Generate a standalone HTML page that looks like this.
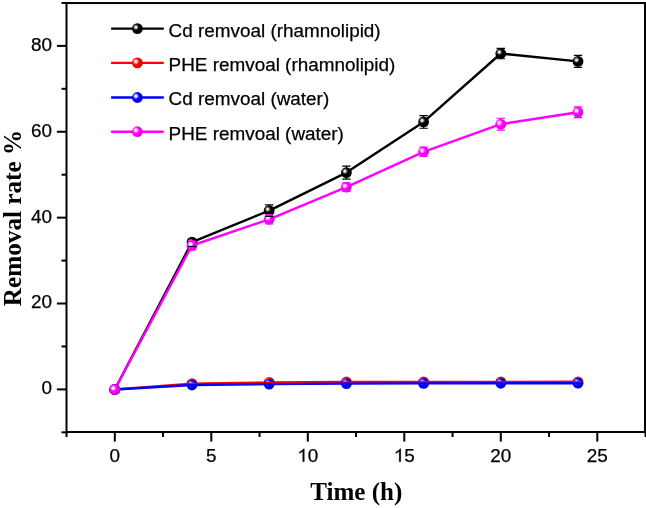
<!DOCTYPE html>
<html><head><meta charset="utf-8"><style>
html,body{margin:0;padding:0;background:#fff;}
svg{display:block;will-change:transform;}
.tl{font-family:"Liberation Sans",sans-serif;font-size:18.9px;fill:#000;stroke:#000;stroke-width:0.25px;}
.lg{font-family:"Liberation Sans",sans-serif;font-size:18.9px;fill:#000;stroke:#000;stroke-width:0.25px;}
.at{font-family:"Liberation Serif",serif;font-size:25px;font-weight:bold;fill:#000;}
</style></head><body>
<svg width="646" height="508" viewBox="0 0 646 508">
<defs><radialGradient id="gk" cx="0.36" cy="0.37" r="0.66" fx="0.36" fy="0.37">
<stop offset="0" stop-color="#f0f0f0"/><stop offset="0.12" stop-color="#f0f0f0"/><stop offset="0.27" stop-color="#606060"/><stop offset="0.45" stop-color="#000000"/><stop offset="1" stop-color="#000000"/></radialGradient><radialGradient id="gr" cx="0.36" cy="0.37" r="0.66" fx="0.36" fy="0.37">
<stop offset="0" stop-color="#fff4f4"/><stop offset="0.12" stop-color="#fff4f4"/><stop offset="0.27" stop-color="#ff8080"/><stop offset="0.45" stop-color="#ff0000"/><stop offset="1" stop-color="#e00000"/></radialGradient><radialGradient id="gb" cx="0.36" cy="0.37" r="0.66" fx="0.36" fy="0.37">
<stop offset="0" stop-color="#f4f4ff"/><stop offset="0.12" stop-color="#f4f4ff"/><stop offset="0.27" stop-color="#8080ff"/><stop offset="0.45" stop-color="#0000ff"/><stop offset="1" stop-color="#0000e0"/></radialGradient><radialGradient id="gm" cx="0.36" cy="0.37" r="0.66" fx="0.36" fy="0.37">
<stop offset="0" stop-color="#fff4ff"/><stop offset="0.12" stop-color="#fff4ff"/><stop offset="0.27" stop-color="#ff80ff"/><stop offset="0.45" stop-color="#ff00ff"/><stop offset="1" stop-color="#e000e0"/></radialGradient></defs>
<rect x="66.5" y="3.05" width="578.5" height="428.95" fill="none" stroke="#000" stroke-width="2"/>
<line x1="66.55" y1="432" x2="66.55" y2="437" stroke="#000" stroke-width="2"/>
<line x1="114.80" y1="432" x2="114.80" y2="441.6" stroke="#000" stroke-width="2"/>
<text x="114.80" y="461.7" class="tl" text-anchor="middle">0</text>
<line x1="163.05" y1="432" x2="163.05" y2="437" stroke="#000" stroke-width="2"/>
<line x1="211.30" y1="432" x2="211.30" y2="441.6" stroke="#000" stroke-width="2"/>
<text x="211.30" y="461.7" class="tl" text-anchor="middle">5</text>
<line x1="259.55" y1="432" x2="259.55" y2="437" stroke="#000" stroke-width="2"/>
<line x1="307.80" y1="432" x2="307.80" y2="441.6" stroke="#000" stroke-width="2"/>
<path transform="translate(297.29 461.7) scale(0.009229 -0.009229)" d="M763 0L583 0L583 1102Q518 1043 415 984Q312 926 221 894L221 1061Q385 1135 508 1243Q634 1350 673 1409L763 1409Z" fill="#000" stroke="#000" stroke-width="27.1"/>
<text x="307.80" y="461.7" class="tl">0</text>
<line x1="356.05" y1="432" x2="356.05" y2="437" stroke="#000" stroke-width="2"/>
<line x1="404.30" y1="432" x2="404.30" y2="441.6" stroke="#000" stroke-width="2"/>
<path transform="translate(393.79 461.7) scale(0.009229 -0.009229)" d="M763 0L583 0L583 1102Q518 1043 415 984Q312 926 221 894L221 1061Q385 1135 508 1243Q634 1350 673 1409L763 1409Z" fill="#000" stroke="#000" stroke-width="27.1"/>
<text x="404.30" y="461.7" class="tl">5</text>
<line x1="452.55" y1="432" x2="452.55" y2="437" stroke="#000" stroke-width="2"/>
<line x1="500.80" y1="432" x2="500.80" y2="441.6" stroke="#000" stroke-width="2"/>
<text x="500.80" y="461.7" class="tl" text-anchor="middle">20</text>
<line x1="549.05" y1="432" x2="549.05" y2="437" stroke="#000" stroke-width="2"/>
<line x1="597.30" y1="432" x2="597.30" y2="441.6" stroke="#000" stroke-width="2"/>
<text x="597.30" y="461.7" class="tl" text-anchor="middle">25</text>
<line x1="645.55" y1="432" x2="645.55" y2="437" stroke="#000" stroke-width="2"/>
<line x1="66.5" y1="432.34" x2="61.5" y2="432.34" stroke="#000" stroke-width="2"/>
<line x1="66.5" y1="389.40" x2="56.9" y2="389.40" stroke="#000" stroke-width="2"/>
<text x="52" y="394.35" class="tl" text-anchor="end">0</text>
<line x1="66.5" y1="346.46" x2="61.5" y2="346.46" stroke="#000" stroke-width="2"/>
<line x1="66.5" y1="303.52" x2="56.9" y2="303.52" stroke="#000" stroke-width="2"/>
<text x="52" y="308.47" class="tl" text-anchor="end">20</text>
<line x1="66.5" y1="260.58" x2="61.5" y2="260.58" stroke="#000" stroke-width="2"/>
<line x1="66.5" y1="217.64" x2="56.9" y2="217.64" stroke="#000" stroke-width="2"/>
<text x="52" y="222.59" class="tl" text-anchor="end">40</text>
<line x1="66.5" y1="174.70" x2="61.5" y2="174.70" stroke="#000" stroke-width="2"/>
<line x1="66.5" y1="131.76" x2="56.9" y2="131.76" stroke="#000" stroke-width="2"/>
<text x="52" y="136.71" class="tl" text-anchor="end">60</text>
<line x1="66.5" y1="88.82" x2="61.5" y2="88.82" stroke="#000" stroke-width="2"/>
<line x1="66.5" y1="45.88" x2="56.9" y2="45.88" stroke="#000" stroke-width="2"/>
<text x="52" y="50.83" class="tl" text-anchor="end">80</text>
<line x1="66.5" y1="2.94" x2="61.5" y2="2.94" stroke="#000" stroke-width="2"/>
<polyline points="114.80,389.50 192.00,242.10 269.20,210.60 346.40,172.60 423.60,121.90 500.80,53.50 578.00,61.40" fill="none" stroke="#000000" stroke-width="2.4" stroke-linejoin="round"/>
<polyline points="114.80,389.50 192.00,383.60 269.20,382.40 346.40,382.00 423.60,381.90 500.80,381.90 578.00,381.80" fill="none" stroke="#ff0000" stroke-width="2.4" stroke-linejoin="round"/>
<polyline points="114.80,389.50 192.00,385.00 269.20,384.10 346.40,383.60 423.60,383.40 500.80,383.30 578.00,383.20" fill="none" stroke="#0000ff" stroke-width="2.4" stroke-linejoin="round"/>
<polyline points="114.80,389.50 192.00,245.50 269.20,219.30 346.40,187.10 423.60,151.80 500.80,124.20 578.00,112.20" fill="none" stroke="#ff00ff" stroke-width="2.4" stroke-linejoin="round"/>
<path d="M192.00 238.80V246.50" stroke="#000000" stroke-width="1.15" fill="none"/>
<path d="M269.20 204.90V216.30" stroke="#000000" stroke-width="1.15" fill="none"/>
<path d="M346.40 166.10V179.10" stroke="#000000" stroke-width="1.15" fill="none"/>
<path d="M423.60 115.60V128.20" stroke="#000000" stroke-width="1.15" fill="none"/>
<path d="M500.80 48.30V58.70" stroke="#000000" stroke-width="1.15" fill="none"/>
<path d="M578.00 55.40V67.40" stroke="#000000" stroke-width="1.15" fill="none"/>
<path d="M192.00 383.30V383.90" stroke="#ff0000" stroke-width="1.15" fill="none"/>
<path d="M269.20 382.10V382.70" stroke="#ff0000" stroke-width="1.15" fill="none"/>
<path d="M346.40 381.70V382.30" stroke="#ff0000" stroke-width="1.15" fill="none"/>
<path d="M423.60 381.60V382.20" stroke="#ff0000" stroke-width="1.15" fill="none"/>
<path d="M500.80 381.60V382.20" stroke="#ff0000" stroke-width="1.15" fill="none"/>
<path d="M578.00 381.50V382.10" stroke="#ff0000" stroke-width="1.15" fill="none"/>
<path d="M192.00 384.50V385.50" stroke="#0000ff" stroke-width="1.15" fill="none"/>
<path d="M269.20 383.60V384.60" stroke="#0000ff" stroke-width="1.15" fill="none"/>
<path d="M346.40 383.10V384.10" stroke="#0000ff" stroke-width="1.15" fill="none"/>
<path d="M423.60 382.90V383.90" stroke="#0000ff" stroke-width="1.15" fill="none"/>
<path d="M500.80 382.80V383.80" stroke="#0000ff" stroke-width="1.15" fill="none"/>
<path d="M578.00 382.70V383.70" stroke="#0000ff" stroke-width="1.15" fill="none"/>
<path d="M192.00 241.10V249.90" stroke="#ff00ff" stroke-width="1.15" fill="none"/>
<path d="M269.20 214.80V223.80" stroke="#ff00ff" stroke-width="1.15" fill="none"/>
<path d="M346.40 182.80V191.40" stroke="#ff00ff" stroke-width="1.15" fill="none"/>
<path d="M423.60 147.10V156.50" stroke="#ff00ff" stroke-width="1.15" fill="none"/>
<path d="M500.80 118.25V130.15" stroke="#ff00ff" stroke-width="1.15" fill="none"/>
<path d="M578.00 106.85V117.55" stroke="#ff00ff" stroke-width="1.15" fill="none"/>
<circle cx="114.80" cy="389.50" r="5.4" fill="url(#gk)"/>
<circle cx="192.00" cy="242.10" r="5.4" fill="url(#gk)"/>
<circle cx="269.20" cy="210.60" r="5.4" fill="url(#gk)"/>
<circle cx="346.40" cy="172.60" r="5.4" fill="url(#gk)"/>
<circle cx="423.60" cy="121.90" r="5.4" fill="url(#gk)"/>
<circle cx="500.80" cy="53.50" r="5.4" fill="url(#gk)"/>
<circle cx="578.00" cy="61.40" r="5.4" fill="url(#gk)"/>
<circle cx="114.80" cy="389.50" r="5.4" fill="url(#gr)"/>
<circle cx="192.00" cy="383.60" r="5.4" fill="url(#gr)"/>
<circle cx="269.20" cy="382.40" r="5.4" fill="url(#gr)"/>
<circle cx="346.40" cy="382.00" r="5.4" fill="url(#gr)"/>
<circle cx="423.60" cy="381.90" r="5.4" fill="url(#gr)"/>
<circle cx="500.80" cy="381.90" r="5.4" fill="url(#gr)"/>
<circle cx="578.00" cy="381.80" r="5.4" fill="url(#gr)"/>
<circle cx="114.80" cy="389.50" r="5.4" fill="url(#gb)"/>
<circle cx="192.00" cy="385.00" r="5.4" fill="url(#gb)"/>
<circle cx="269.20" cy="384.10" r="5.4" fill="url(#gb)"/>
<circle cx="346.40" cy="383.60" r="5.4" fill="url(#gb)"/>
<circle cx="423.60" cy="383.40" r="5.4" fill="url(#gb)"/>
<circle cx="500.80" cy="383.30" r="5.4" fill="url(#gb)"/>
<circle cx="578.00" cy="383.20" r="5.4" fill="url(#gb)"/>
<circle cx="114.80" cy="389.50" r="5.4" fill="url(#gm)"/>
<circle cx="192.00" cy="245.50" r="5.4" fill="url(#gm)"/>
<circle cx="269.20" cy="219.30" r="5.4" fill="url(#gm)"/>
<circle cx="346.40" cy="187.10" r="5.4" fill="url(#gm)"/>
<circle cx="423.60" cy="151.80" r="5.4" fill="url(#gm)"/>
<circle cx="500.80" cy="124.20" r="5.4" fill="url(#gm)"/>
<circle cx="578.00" cy="112.20" r="5.4" fill="url(#gm)"/>
<path d="M187.80 238.80H196.20M187.80 246.50H196.20" stroke="#000000" stroke-width="1.15" fill="none"/>
<path d="M265.00 204.90H273.40M265.00 216.30H273.40" stroke="#000000" stroke-width="1.15" fill="none"/>
<path d="M342.20 166.10H350.60M342.20 179.10H350.60" stroke="#000000" stroke-width="1.15" fill="none"/>
<path d="M419.40 115.60H427.80M419.40 128.20H427.80" stroke="#000000" stroke-width="1.15" fill="none"/>
<path d="M496.60 48.30H505.00M496.60 58.70H505.00" stroke="#000000" stroke-width="1.15" fill="none"/>
<path d="M573.80 55.40H582.20M573.80 67.40H582.20" stroke="#000000" stroke-width="1.15" fill="none"/>
<path d="M187.80 383.30H196.20M187.80 383.90H196.20" stroke="#ff0000" stroke-width="1.15" fill="none"/>
<path d="M265.00 382.10H273.40M265.00 382.70H273.40" stroke="#ff0000" stroke-width="1.15" fill="none"/>
<path d="M342.20 381.70H350.60M342.20 382.30H350.60" stroke="#ff0000" stroke-width="1.15" fill="none"/>
<path d="M419.40 381.60H427.80M419.40 382.20H427.80" stroke="#ff0000" stroke-width="1.15" fill="none"/>
<path d="M496.60 381.60H505.00M496.60 382.20H505.00" stroke="#ff0000" stroke-width="1.15" fill="none"/>
<path d="M573.80 381.50H582.20M573.80 382.10H582.20" stroke="#ff0000" stroke-width="1.15" fill="none"/>
<path d="M187.80 384.50H196.20M187.80 385.50H196.20" stroke="#0000ff" stroke-width="1.15" fill="none"/>
<path d="M265.00 383.60H273.40M265.00 384.60H273.40" stroke="#0000ff" stroke-width="1.15" fill="none"/>
<path d="M342.20 383.10H350.60M342.20 384.10H350.60" stroke="#0000ff" stroke-width="1.15" fill="none"/>
<path d="M419.40 382.90H427.80M419.40 383.90H427.80" stroke="#0000ff" stroke-width="1.15" fill="none"/>
<path d="M496.60 382.80H505.00M496.60 383.80H505.00" stroke="#0000ff" stroke-width="1.15" fill="none"/>
<path d="M573.80 382.70H582.20M573.80 383.70H582.20" stroke="#0000ff" stroke-width="1.15" fill="none"/>
<path d="M187.80 241.10H196.20M187.80 249.90H196.20" stroke="#ff00ff" stroke-width="1.15" fill="none"/>
<path d="M265.00 214.80H273.40M265.00 223.80H273.40" stroke="#ff00ff" stroke-width="1.15" fill="none"/>
<path d="M342.20 182.80H350.60M342.20 191.40H350.60" stroke="#ff00ff" stroke-width="1.15" fill="none"/>
<path d="M419.40 147.10H427.80M419.40 156.50H427.80" stroke="#ff00ff" stroke-width="1.15" fill="none"/>
<path d="M496.60 118.25H505.00M496.60 130.15H505.00" stroke="#ff00ff" stroke-width="1.15" fill="none"/>
<path d="M573.80 106.85H582.20M573.80 117.55H582.20" stroke="#ff00ff" stroke-width="1.15" fill="none"/>
<line x1="111.1" y1="28.6" x2="163.8" y2="28.6" stroke="#000000" stroke-width="2.4"/>
<circle cx="137.4" cy="28.6" r="5.4" fill="url(#gk)"/>
<text x="168.6" y="36.80" class="lg">Cd remvoal (rhamnolipid)</text>
<line x1="111.1" y1="62.9" x2="163.8" y2="62.9" stroke="#ff0000" stroke-width="2.4"/>
<circle cx="137.4" cy="62.9" r="5.4" fill="url(#gr)"/>
<text x="168.6" y="70.60" class="lg">PHE remvoal (rhamnolipid)</text>
<line x1="111.1" y1="97.5" x2="163.8" y2="97.5" stroke="#0000ff" stroke-width="2.4"/>
<circle cx="137.4" cy="97.5" r="5.4" fill="url(#gb)"/>
<text x="168.6" y="105.30" class="lg">Cd remvoal (water)</text>
<line x1="111.1" y1="131.7" x2="163.8" y2="131.7" stroke="#ff00ff" stroke-width="2.4"/>
<circle cx="137.4" cy="131.7" r="5.4" fill="url(#gm)"/>
<text x="168.6" y="139.70" class="lg">PHE remvoal (water)</text>
<text x="356.3" y="499.7" class="at" text-anchor="middle">Time (h)</text>
<text transform="translate(21.4 218.0) rotate(-90)" x="0" y="0" class="at" style="font-size:25.2px" text-anchor="middle">Removal rate %</text>
</svg>
</body></html>
